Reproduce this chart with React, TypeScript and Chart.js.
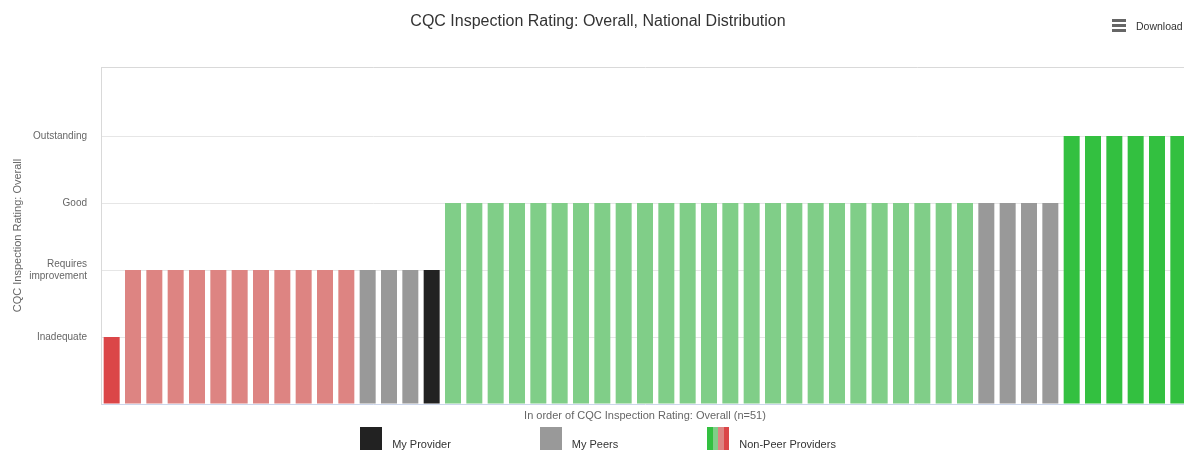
import React, { useEffect, useRef } from 'react';
import { Chart, registerables } from 'chart.js';

Chart.register(...registerables);

// ---- data ----
const chartTitle = 'CQC Inspection Rating: Overall, National Distribution';
const yAxisTitle = 'CQC Inspection Rating: Overall';
const xAxisTitle = 'In order of CQC Inspection Rating: Overall (n=51)';

// y tick labels, indexed by rating value 0..4
const ratingLabels: (string | string[])[] = ['', 'Inadequate', ['Requires', 'improvement'], 'Good', 'Outstanding'];
const ratingTicks = [0, 1, 2, 3, 4];
const yMax = 5.03;

// rating of each provider (1 = Inadequate ... 4 = Outstanding), in sorted order
const ratings = [
  1,
  2, 2, 2, 2, 2, 2, 2, 2, 2, 2, 2,
  2, 2, 2,
  2,
  3, 3, 3, 3, 3, 3, 3, 3, 3, 3, 3, 3, 3, 3, 3, 3, 3, 3, 3, 3, 3, 3, 3, 3, 3,
  3, 3, 3, 3,
  4, 4, 4, 4, 4, 4,
];

// group of each provider
const groups = [
  'other',
  'other', 'other', 'other', 'other', 'other', 'other', 'other', 'other', 'other', 'other', 'other',
  'peer', 'peer', 'peer',
  'mine',
  'other', 'other', 'other', 'other', 'other', 'other', 'other', 'other', 'other', 'other',
  'other', 'other', 'other', 'other', 'other', 'other', 'other', 'other', 'other', 'other',
  'other', 'other', 'other', 'other', 'other',
  'peer', 'peer', 'peer', 'peer',
  'other', 'other', 'other', 'other', 'other', 'other',
];

const legendItems = ['My Provider', 'My Peers', 'Non-Peer Providers'];

// ---- styles ----
const ratingColors: Record<number, string> = {
  1: '#db4648',
  2: '#dd8482',
  3: '#80ce88',
  4: '#33c040',
};
const mineColor = '#222222';
const peerColor = '#999999';
const FONT = 'Arial, "Liberation Sans", Helvetica, sans-serif';

export default function App() {
  const canvasRef = useRef<HTMLCanvasElement | null>(null);

  useEffect(() => {
    const canvas = canvasRef.current;
    if (!canvas) return;
    const labels = ratings.map((_, i) => String(i + 1));
    const colors = ratings.map((r, i) =>
      groups[i] === 'mine' ? mineColor : groups[i] === 'peer' ? peerColor : ratingColors[r]
    );
    const chart = new Chart(canvas, {
      type: 'bar',
      data: {
        labels,
        datasets: [
          {
            data: ratings,
            backgroundColor: colors,
            borderWidth: 0,
            barPercentage: 0.75,
            categoryPercentage: 1,
          },
        ],
      },
      options: {
        responsive: false,
        animation: false,
        devicePixelRatio: 1,
        layout: { padding: { top: 67, left: 0, right: 11, bottom: 0 } },
        plugins: {
          legend: { display: false },
          tooltip: { enabled: false },
          title: { display: false },
        },
        scales: {
          x: {
            type: 'category',
            grid: { display: false },
            border: { display: true, color: '#ccd6eb', width: 1 },
            ticks: { display: false },
            title: {
              display: true,
              text: xAxisTitle,
              color: '#666666',
              font: { family: FONT, size: 11 },
              padding: { top: 0, bottom: 27.4 },
            },
            afterFit: (s: any) => {
              s.height = 46;
            },
          },
          xTop: {
            type: 'category',
            position: 'top',
            grid: { display: false },
            border: { display: true, color: '#d9d9d9', width: 1 },
            ticks: { display: false },
            afterFit: (s: any) => {
              s.height = 0;
            },
          },
          y: {
            min: 0,
            max: yMax,
            afterBuildTicks: (s: any) => {
              s.ticks = ratingTicks.map((v) => ({ value: v }));
            },
            grid: {
              drawTicks: false,
              tickLength: 0,
              color: (ctx: any) =>
                ctx.tick && ctx.tick.value === 0 ? 'rgba(0,0,0,0)' : '#e6e6e6',
            },
            border: { display: true, color: '#d9d9d9', width: 1 },
            ticks: {
              autoSkip: false,
              padding: 14,
              color: '#666666',
              font: { family: FONT, size: 10 },
              callback: (v: any) => ratingLabels[Number(v)] ?? '',
            },
            title: {
              display: true,
              text: yAxisTitle,
              color: '#666666',
              font: { family: FONT, size: 11 },
              padding: { top: 11, bottom: 0 },
            },
            afterFit: (s: any) => {
              s.width = 101;
            },
          },
        },
      },
    });
    return () => chart.destroy();
  }, []);

  const box = (kind: string) => {
    const size = { width: 22, height: 23 };
    if (kind === 'My Provider') return <div style={{ ...size, background: mineColor }} />;
    if (kind === 'My Peers') return <div style={{ ...size, background: peerColor }} />;
    return (
      <div style={{ ...size, display: 'flex' }}>
        <div style={{ flex: 1, background: ratingColors[4] }} />
        <div style={{ flex: 1, background: ratingColors[3] }} />
        <div style={{ flex: 1, background: ratingColors[2] }} />
        <div style={{ flex: 1, background: ratingColors[1] }} />
      </div>
    );
  };

  return (
    <div
      style={{
        position: 'fixed',
        left: 0,
        top: 0,
        width: 1184,
        height: 450,
        overflow: 'hidden',
        background: '#ffffff',
        fontFamily: FONT,
      }}
    >
      <div style={{ position: 'absolute', left: 0, top: 0, width: 1200, height: 450 }}>
        <canvas ref={canvasRef} width={1200} height={450} style={{ display: 'block' }} />
      </div>
      <div
        style={{
          position: 'absolute',
          left: 0,
          top: 11,
          width: 1196,
          textAlign: 'center',
          fontSize: 16,
          lineHeight: '20px',
          color: '#333333',
          whiteSpace: 'nowrap',
        }}
      >
        {chartTitle}
      </div>
      <div
        style={{
          position: 'absolute',
          left: 1112,
          top: 19,
          display: 'flex',
          alignItems: 'center',
          color: '#333333',
          fontSize: 10.5,
          whiteSpace: 'nowrap',
        }}
      >
        <div style={{ width: 14, display: 'flex', flexDirection: 'column', gap: 2 }}>
          <div style={{ height: 3, background: '#666666' }} />
          <div style={{ height: 3, background: '#666666' }} />
          <div style={{ height: 3, background: '#666666' }} />
        </div>
        <span style={{ marginLeft: 10 }}>Download</span>
      </div>
      <div
        style={{
          position: 'absolute',
          left: 0,
          top: 427,
          width: 1196,
          display: 'flex',
          justifyContent: 'center',
          gap: 89,
        }}
      >
        {legendItems.map((item) => (
          <div key={item} style={{ display: 'flex', alignItems: 'flex-start' }}>
            {box(item)}
            <span
              style={{
                marginLeft: 10,
                marginTop: 10,
                fontSize: 11,
                lineHeight: '14px',
                color: '#333333',
                whiteSpace: 'nowrap',
              }}
            >
              {item}
            </span>
          </div>
        ))}
      </div>
    </div>
  );
}
